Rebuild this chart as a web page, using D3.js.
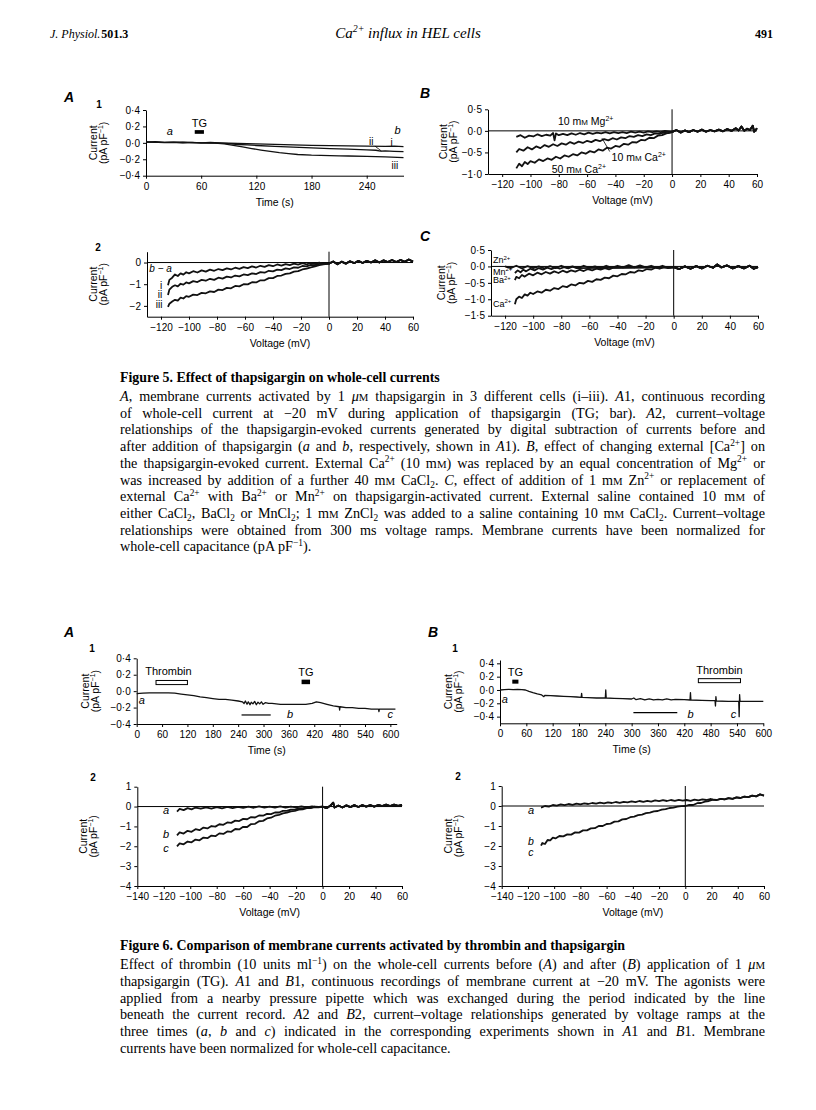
<!DOCTYPE html>
<html>
<head>
<meta charset="utf-8">
<script src="https://cdn.jsdelivr.net/npm/d3@7"></script>
<style>
  body { margin: 0; background: #fff; }
  svg { display: block; }
  .axis text { font-family: "Liberation Sans", Arial, sans-serif; font-size: 10px; fill: #000; }
  .axis path, .axis line { stroke: #000; stroke-width: 1; }
  .sans { font-family: "Liberation Sans", Arial, sans-serif; }
  .serif { font-family: "Liberation Serif", "Times New Roman", serif; }
</style>
</head>
<body>
<svg id="page" width="816" height="1110"></svg>
<script>
// ---- tick values ----
const TICKS_T280 = [0, 60, 120, 180, 240];
const TICKS_T600 = [0, 60, 120, 180, 240, 300, 360, 420, 480, 540, 600];
const TICKS_V130 = [-120, -100, -80, -60, -40, -20, 0, 20, 40, 60];
const TICKS_V140 = [-140, -120, -100, -80, -60, -40, -20, 0, 20, 40, 60];
const TICKS_I04 = [-0.4, -0.2, 0, 0.2, 0.4];
const TICKS_B = [-1, -0.5, 0, 0.5];
const TICKS_A2 = [-2, -1, 0];
const TICKS_C = [-1.5, -1, -0.5, 0, 0.5];
const TICKS_I4 = [-4, -3, -2, -1, 0, 1];

// ---- Fig 5 A1: current at -20 mV vs time (s) ----
const f5a1_i = [[0,0.01],[10,0.015],[20,0.005],[30,0.01],[40,0.0],[50,0.005],[60,0.0],[70,0.005],[80,0.0],[90,-0.005],[100,-0.008],[120,-0.012],[140,-0.018],[160,-0.024],[180,-0.03],[200,-0.033],[220,-0.036],[240,-0.04],[260,-0.043],[270,-0.04],[280,-0.045]];
const f5a1_ii = [[0,0.01],[20,0.005],[40,0.008],[60,0.0],[80,-0.003],[90,-0.01],[100,-0.02],[110,-0.025],[120,-0.032],[140,-0.042],[160,-0.052],[180,-0.062],[200,-0.07],[220,-0.077],[240,-0.085],[250,-0.09],[255,-0.1],[260,-0.098],[270,-0.104],[280,-0.108]];
const f5a1_iii = [[0,0.012],[20,0.002],[40,0.006],[60,0.0],[75,-0.003],[85,-0.012],[95,-0.03],[105,-0.05],[115,-0.07],[125,-0.088],[135,-0.105],[145,-0.12],[155,-0.132],[165,-0.142],[180,-0.15],[200,-0.155],[210,-0.158],[220,-0.16],[240,-0.165],[260,-0.172],[280,-0.18]];

// ---- Fig 5 B: I-V, changing external cation ----
const f5bMg = [[-110,-0.14],[-107,-0.1],[-104,-0.16],[-101,-0.11],[-98,-0.13],[-95,-0.08],[-92,-0.12],[-89,-0.09],[-86,-0.11],[-84,-0.05],[-83,-0.22],[-82,-0.06],[-80,-0.1],[-77,-0.07],[-74,-0.1],[-71,-0.06],[-68,-0.09],[-65,-0.05],[-62,-0.08],[-59,-0.04],[-56,-0.07],[-53,-0.04],[-50,-0.06],[-47,-0.03],[-44,-0.06],[-41,-0.03],[-38,-0.05],[-35,-0.03],[-32,-0.05],[-29,-0.02],[-26,-0.04],[-23,-0.02],[-20,-0.04],[-17,-0.01],[-14,-0.03],[-11,-0.01],[-8,-0.03],[-5,0.0]];
const f5bCa10 = [[-110,-0.5],[-108,-0.42],[-105,-0.46],[-102,-0.38],[-99,-0.43],[-96,-0.36],[-93,-0.4],[-90,-0.33],[-87,-0.37],[-84,-0.31],[-81,-0.35],[-78,-0.29],[-75,-0.32],[-72,-0.26],[-69,-0.3],[-66,-0.25],[-63,-0.28],[-60,-0.23],[-57,-0.26],[-54,-0.21],[-51,-0.24],[-48,-0.19],[-45,-0.22],[-42,-0.17],[-39,-0.2],[-36,-0.15],[-33,-0.17],[-30,-0.12],[-27,-0.14],[-24,-0.1],[-21,-0.12],[-18,-0.08],[-15,-0.1],[-12,-0.06],[-9,-0.07],[-6,-0.04],[-3,-0.05]];
const f5bCa50 = [[-110,-0.87],[-108,-0.76],[-106,-0.82],[-104,-0.72],[-102,-0.77],[-100,-0.7],[-97,-0.74],[-94,-0.66],[-91,-0.7],[-88,-0.64],[-85,-0.67],[-82,-0.6],[-79,-0.64],[-76,-0.57],[-73,-0.6],[-70,-0.54],[-67,-0.57],[-64,-0.5],[-61,-0.53],[-58,-0.47],[-55,-0.5],[-52,-0.43],[-49,-0.46],[-46,-0.39],[-43,-0.41],[-40,-0.35],[-37,-0.37],[-34,-0.3],[-31,-0.32],[-28,-0.26],[-25,-0.27],[-22,-0.21],[-19,-0.22],[-16,-0.16],[-13,-0.17],[-10,-0.11],[-7,-0.1],[-4,-0.06]];
const f5bTail = [[0,-0.03],[3,0.02],[6,-0.04],[9,0.01],[12,-0.03],[15,0.02],[18,-0.02],[21,0.03],[24,-0.02],[27,0.02],[30,-0.01],[33,0.03],[36,-0.01],[39,0.04],[42,0.0],[45,0.06],[47,0.01],[49,0.1],[51,0.0],[53,0.05],[55,0.02],[57,0.12],[58,-0.02],[60,0.06]];

// ---- Fig 5 A2: TG-evoked I-V (b - a) ----
const f5a2_i = [[-115,-1.05],[-114,-0.8],[-112,-0.7],[-110,-0.55],[-108,-0.62],[-106,-0.5],[-104,-0.56],[-102,-0.45],[-100,-0.5],[-97,-0.4],[-94,-0.46],[-91,-0.36],[-88,-0.42],[-85,-0.33],[-82,-0.38],[-79,-0.3],[-76,-0.35],[-73,-0.27],[-70,-0.32],[-67,-0.24],[-64,-0.29],[-61,-0.21],[-58,-0.26],[-55,-0.18],[-52,-0.23],[-49,-0.15],[-46,-0.2],[-43,-0.12],[-40,-0.17],[-37,-0.09],[-34,-0.14],[-31,-0.07],[-28,-0.12],[-25,-0.05],[-22,-0.1],[-19,-0.03],[-16,-0.08],[-13,-0.02],[-10,-0.06],[-7,0.0],[-4,-0.05]];
const f5a2_ii = [[-115,-1.5],[-114,-1.25],[-112,-1.12],[-110,-1.05],[-108,-1.1],[-106,-0.98],[-104,-1.02],[-102,-0.92],[-100,-0.96],[-97,-0.86],[-94,-0.9],[-91,-0.8],[-88,-0.84],[-85,-0.75],[-82,-0.8],[-79,-0.7],[-76,-0.74],[-73,-0.65],[-70,-0.69],[-67,-0.6],[-64,-0.64],[-61,-0.55],[-58,-0.58],[-55,-0.5],[-52,-0.53],[-49,-0.44],[-46,-0.47],[-43,-0.38],[-40,-0.41],[-37,-0.33],[-34,-0.35],[-31,-0.27],[-28,-0.3],[-25,-0.22],[-22,-0.24],[-19,-0.16],[-16,-0.18],[-13,-0.11],[-10,-0.12],[-7,-0.06],[-4,-0.06]];
const f5a2_iii = [[-115,-2.05],[-114,-1.9],[-112,-1.8],[-110,-1.72],[-108,-1.76],[-106,-1.62],[-104,-1.66],[-102,-1.55],[-100,-1.58],[-97,-1.48],[-94,-1.5],[-91,-1.4],[-88,-1.42],[-85,-1.33],[-82,-1.36],[-79,-1.25],[-76,-1.27],[-73,-1.17],[-70,-1.19],[-67,-1.08],[-64,-1.1],[-61,-1.0],[-58,-1.01],[-55,-0.91],[-52,-0.92],[-49,-0.82],[-46,-0.82],[-43,-0.72],[-40,-0.72],[-37,-0.62],[-34,-0.6],[-31,-0.52],[-28,-0.5],[-25,-0.42],[-22,-0.4],[-19,-0.32],[-16,-0.28],[-13,-0.22],[-10,-0.18],[-7,-0.12],[-4,-0.08]];
const f5a2Tail = [[0,-0.05],[3,0.05],[6,-0.08],[9,0.04],[12,-0.05],[15,0.06],[18,-0.03],[21,0.08],[24,-0.02],[27,0.08],[30,0.0],[33,0.1],[36,0.0],[39,0.1],[42,0.02],[45,0.12],[48,0.02],[51,0.12],[54,0.03],[57,0.14],[60,0.04]];

// ---- Fig 5 C: Zn, Mn, Ba, Ca ----
const f5cZn = [[-120,0.0],[-116,-0.05],[-112,0.02],[-108,-0.06],[-104,0.01],[-100,-0.05],[-96,0.0],[-92,-0.06],[-88,0.01],[-84,-0.05],[-80,0.02],[-76,-0.04],[-72,0.0],[-68,-0.05],[-64,0.02],[-60,-0.04],[-56,0.0],[-52,-0.05],[-48,0.02],[-44,-0.04],[-40,0.02],[-36,-0.03],[-32,0.04],[-28,-0.03],[-24,0.03],[-20,-0.03],[-16,0.02],[-12,-0.04],[-8,0.02],[-4,-0.04]];
const f5cMn = [[-113,-0.2],[-111,-0.12],[-109,-0.18],[-107,-0.1],[-105,-0.15],[-102,-0.07],[-99,-0.12],[-96,-0.05],[-93,-0.1],[-90,-0.04],[-87,-0.08],[-84,-0.03],[-81,-0.07],[-78,-0.02],[-75,-0.06],[-72,-0.01],[-69,-0.05]];
const f5cBa = [[-113,-0.42],[-112,-0.32],[-110,-0.36],[-108,-0.26],[-106,-0.31],[-103,-0.22],[-100,-0.27],[-97,-0.19],[-94,-0.24],[-91,-0.17],[-88,-0.22],[-85,-0.15],[-82,-0.2],[-79,-0.13],[-76,-0.18],[-73,-0.12],[-70,-0.16],[-67,-0.1],[-64,-0.14],[-61,-0.08],[-58,-0.12],[-55,-0.07],[-52,-0.1],[-49,-0.05],[-46,-0.09],[-43,-0.04]];
const f5cCa = [[-113,-1.15],[-112,-1.0],[-110,-0.92],[-108,-0.96],[-106,-0.85],[-104,-0.89],[-102,-0.8],[-100,-0.84],[-97,-0.76],[-94,-0.8],[-91,-0.71],[-88,-0.74],[-85,-0.66],[-82,-0.69],[-79,-0.6],[-76,-0.63],[-73,-0.55],[-70,-0.58],[-67,-0.5],[-64,-0.52],[-61,-0.44],[-58,-0.47],[-55,-0.39],[-52,-0.41],[-49,-0.34],[-46,-0.36],[-43,-0.28],[-40,-0.3],[-37,-0.23],[-34,-0.24],[-31,-0.17],[-28,-0.19],[-25,-0.12],[-22,-0.14],[-19,-0.08],[-16,-0.1],[-13,-0.04],[-10,-0.07],[-7,-0.02],[-4,-0.05]];
const f5cTail = [[0,-0.02],[4,-0.08],[8,0.0],[12,-0.07],[16,0.01],[20,-0.06],[24,0.02],[28,-0.04],[31,0.06],[34,-0.03],[38,0.03],[42,-0.06],[46,0.01],[50,-0.06],[54,0.02],[57,-0.07],[60,-0.02]];

// ---- Fig 6 A1 / B1: current at -20 mV vs time ----
const f6a1 = [[0,-0.03],[15,-0.025],[30,-0.02],[45,-0.02],[60,-0.02],[75,-0.02],[90,-0.025],[105,-0.035],[120,-0.045],[135,-0.055],[150,-0.07],[165,-0.08],[180,-0.09],[195,-0.1],[210,-0.1],[225,-0.11],[240,-0.12],[250,-0.13],[254,-0.15],[257,-0.12],[261,-0.16],[264,-0.13],[268,-0.165],[271,-0.135],[275,-0.155],[279,-0.125],[283,-0.165],[287,-0.135],[291,-0.155],[295,-0.13],[299,-0.16],[304,-0.14],[312,-0.15],[320,-0.15],[340,-0.16],[360,-0.16],[380,-0.16],[400,-0.16],[415,-0.15],[425,-0.13],[435,-0.14],[450,-0.16],[465,-0.18],[479,-0.19],[480,-0.23],[481,-0.19],[495,-0.2],[510,-0.2],[525,-0.21],[540,-0.21],[555,-0.22],[572,-0.22],[573,-0.25],[574,-0.22],[590,-0.22],[612,-0.22]];
const f6b1 = [[0,0.0],[10,0.005],[20,0.01],[30,0.005],[40,0.01],[50,0.005],[58,0.0],[66,-0.02],[75,-0.04],[85,-0.06],[95,-0.075],[100,-0.1],[102,-0.08],[115,-0.085],[130,-0.09],[145,-0.095],[160,-0.1],[175,-0.105],[185,-0.11],[186,-0.05],[187,-0.11],[200,-0.115],[220,-0.12],[240,-0.12],[241,0.0],[242,-0.12],[260,-0.125],[280,-0.13],[300,-0.135],[305,-0.12],[310,-0.145],[320,-0.13],[330,-0.15],[340,-0.135],[350,-0.15],[360,-0.14],[370,-0.15],[380,-0.135],[390,-0.15],[400,-0.14],[420,-0.145],[433,-0.15],[434,-0.04],[435,-0.15],[460,-0.155],[480,-0.16],[490,-0.16],[491,-0.24],[492,-0.1],[493,-0.165],[520,-0.17],[544,-0.17],[545,-0.4],[546,-0.07],[547,-0.17],[570,-0.17],[600,-0.17]];

// ---- Fig 6 A2 / B2: I-V at times a, b, c ----
const f6a2_a = [[-110,-0.25],[-108,-0.12],[-105,-0.18],[-102,-0.08],[-99,-0.14],[-96,-0.05],[-92,-0.11],[-88,-0.04],[-84,-0.1],[-80,-0.03],[-76,-0.09],[-72,-0.02],[-68,-0.08],[-64,-0.02],[-60,-0.07],[-56,0.0],[-52,-0.06],[-48,0.01],[-44,-0.05],[-40,0.0],[-36,-0.05],[-32,0.01],[-28,-0.05],[-24,0.0],[-20,-0.04],[-16,0.01],[-12,-0.04],[-8,0.01],[-4,-0.03]];
const f6a2_b = [[-110,-1.45],[-108,-1.3],[-105,-1.36],[-102,-1.22],[-99,-1.27],[-96,-1.14],[-93,-1.19],[-90,-1.06],[-87,-1.1],[-84,-0.98],[-81,-1.01],[-78,-0.89],[-75,-0.92],[-72,-0.8],[-69,-0.82],[-66,-0.71],[-63,-0.73],[-60,-0.62],[-57,-0.64],[-54,-0.53],[-51,-0.55],[-48,-0.45],[-45,-0.46],[-42,-0.37],[-39,-0.38],[-36,-0.3],[-33,-0.3],[-30,-0.22],[-27,-0.22],[-24,-0.15],[-21,-0.15],[-18,-0.09],[-15,-0.09],[-12,-0.04],[-9,-0.05],[-6,0.0],[-3,-0.02]];
const f6a2_c = [[-110,-2.0],[-108,-1.85],[-105,-1.9],[-102,-1.76],[-99,-1.8],[-96,-1.66],[-93,-1.7],[-90,-1.56],[-87,-1.59],[-84,-1.46],[-81,-1.49],[-78,-1.35],[-75,-1.38],[-72,-1.25],[-69,-1.27],[-66,-1.13],[-63,-1.15],[-60,-1.02],[-57,-1.03],[-54,-0.88],[-51,-0.87],[-48,-0.74],[-45,-0.72],[-42,-0.6],[-39,-0.56],[-36,-0.46],[-33,-0.42],[-30,-0.34],[-27,-0.31],[-24,-0.24],[-21,-0.22],[-18,-0.15],[-15,-0.14],[-12,-0.08],[-9,-0.08],[-6,-0.03],[-3,-0.04]];
const f6a2Tail = [[0,0.0],[3,-0.08],[6,0.05],[8,0.2],[9,-0.05],[12,0.05],[15,-0.05],[18,0.06],[21,-0.03],[24,0.07],[27,-0.02],[30,0.07],[33,0.0],[36,0.08],[39,0.0],[42,0.08],[45,0.02],[48,0.1],[51,0.02],[54,0.1],[57,0.03],[60,0.08]];
const f6b2_a = [[-110,-0.08],[-107,0.0],[-104,-0.03],[-101,0.05],[-98,0.02],[-95,0.08],[-92,0.04],[-89,0.1],[-86,0.06],[-83,0.12],[-80,0.08],[-77,0.13],[-74,0.1],[-71,0.15],[-68,0.12],[-65,0.17],[-62,0.13],[-59,0.18],[-56,0.15],[-53,0.2],[-50,0.16],[-47,0.21],[-44,0.18],[-41,0.23],[-38,0.19],[-35,0.25],[-32,0.21],[-29,0.26],[-26,0.22],[-23,0.28],[-20,0.24],[-17,0.29],[-14,0.25],[-11,0.3],[-8,0.26],[-5,0.31],[-2,0.27],[1,0.3],[4,0.26],[7,0.32],[10,0.28],[13,0.33],[16,0.3],[19,0.35]];
const f6b2_bc = [[-110,-1.98],[-109,-1.85],[-107,-1.9],[-105,-1.7],[-103,-1.72],[-101,-1.58],[-99,-1.62],[-96,-1.5],[-93,-1.52],[-90,-1.42],[-87,-1.43],[-84,-1.32],[-81,-1.33],[-78,-1.22],[-75,-1.22],[-72,-1.12],[-69,-1.11],[-66,-1.0],[-63,-1.0],[-60,-0.9],[-57,-0.88],[-54,-0.78],[-51,-0.77],[-48,-0.67],[-45,-0.65],[-42,-0.56],[-39,-0.53],[-36,-0.46],[-33,-0.43],[-30,-0.36],[-27,-0.33],[-24,-0.27],[-21,-0.25],[-18,-0.18],[-15,-0.16],[-12,-0.1],[-9,-0.08],[-6,-0.03],[-3,-0.01],[0,0.0],[3,0.06],[6,0.05],[9,0.14],[12,0.15],[15,0.22],[18,0.25]];
const f6b2Tail = [[21,0.32],[24,0.3],[27,0.36],[30,0.33],[33,0.39],[36,0.36],[39,0.43],[42,0.4],[45,0.47],[48,0.44],[51,0.52],[54,0.48],[57,0.58],[60,0.52]];

// ---- caption text (markup: *italic*  ^sup^  _sub_  {small caps}) ----
const CAP5_TITLE = "Figure 5. Effect of thapsigargin on whole-cell currents";
const CAP5 = [
  "*A*, membrane currents activated by 1 *μ*{M} thapsigargin in 3 different cells (i–iii). *A*1, continuous recording",
  "of whole-cell current at −20 mV during application of thapsigargin (TG; bar). *A*2, current–voltage",
  "relationships of the thapsigargin-evoked currents generated by digital subtraction of currents before and",
  "after addition of thapsigargin (*a* and *b*, respectively, shown in *A*1). *B*, effect of changing external [Ca^2+^] on",
  "the thapsigargin-evoked current. External Ca^2+^ (10 m{M}) was replaced by an equal concentration of Mg^2+^ or",
  "was increased by addition of a further 40 m{M} CaCl_2_. *C*, effect of addition of 1 m{M} Zn^2+^ or replacement of",
  "external Ca^2+^ with Ba^2+^ or Mn^2+^ on thapsigargin-activated current. External saline contained 10 m{M} of",
  "either CaCl_2_, BaCl_2_ or MnCl_2_; 1 m{M} ZnCl_2_ was added to a saline containing 10 m{M} CaCl_2_. Current–voltage",
  "relationships were obtained from 300 ms voltage ramps. Membrane currents have been normalized for",
  "whole-cell capacitance (pA pF^−1^)."
];
const CAP6_TITLE = "Figure 6. Comparison of membrane currents activated by thrombin and thapsigargin";
const CAP6 = [
  "Effect of thrombin (10 units ml^−1^) on the whole-cell currents before (*A*) and after (*B*) application of 1 *μ*{M}",
  "thapsigargin (TG). *A*1 and *B*1, continuous recordings of membrane current at −20 mV. The agonists were",
  "applied from a nearby pressure pipette which was exchanged during the period indicated by the line",
  "beneath the current record. *A*2 and *B*2, current–voltage relationships generated by voltage ramps at the",
  "three times (*a*, *b* and *c*) indicated in the corresponding experiments shown in *A*1 and *B*1. Membrane",
  "currents have been normalized for whole-cell capacitance."
];

const svg = d3.select("#page");

const fmtDot = d => (d < 0 ? "−" : "") + Math.abs(d).toFixed(1).replace(".", "·");
const fmtInt = d => (d < 0 ? "−" : "") + Math.abs(d);

// writes marked-up text as tspans into a <text>
function rich(sel, str, fs) {
  let it = false, sup = false, sub = false, sc = false, buf = "";
  const segs = [];
  const flush = () => { if (buf) { segs.push({t: buf, it, sup, sub, sc}); buf = ""; } };
  for (const ch of str) {
    if (ch === "*") { flush(); it = !it; }
    else if (ch === "^") { flush(); sup = !sup; }
    else if (ch === "_") { flush(); sub = !sub; }
    else if (ch === "{") { flush(); sc = true; }
    else if (ch === "}") { flush(); sc = false; }
    else buf += ch;
  }
  flush();
  let off = 0;
  segs.forEach(s => {
    const target = s.sup ? -0.38 * fs : s.sub ? 0.25 * fs : 0;
    const ts = sel.append("tspan").attr("dy", target - off).text(s.t);
    off = target;
    if (s.it) ts.attr("font-style", "italic");
    if (s.sup || s.sub) ts.attr("font-size", 0.66 * fs);
    if (s.sc) ts.attr("font-size", 0.76 * fs);
  });
  return segs.map(s => s.t).join("");
}

function panel(p) {
  const x = d3.scaleLinear().domain(p.xDomain).range([p.left, p.right]);
  const y = d3.scaleLinear().domain(p.yDomain).range([p.bottom, p.top]);
  const g = svg.append("g");

  if (p.zero) {
    g.append("line").attr("x1", p.left).attr("x2", p.right)
      .attr("y1", y(0)).attr("y2", y(0)).attr("stroke", "#000");
    g.append("line").attr("x1", x(0)).attr("x2", x(0))
      .attr("y1", p.top).attr("y2", p.bottom).attr("stroke", "#000");
  }

  g.append("g").attr("class", "axis")
    .attr("transform", `translate(0,${p.bottom})`)
    .call(d3.axisBottom(x).tickValues(p.xTicks).tickFormat(fmtInt)
      .tickSize(3).tickSizeOuter(0).tickPadding(4));
  g.append("g").attr("class", "axis")
    .attr("transform", `translate(${p.left},0)`)
    .call(d3.axisLeft(y).tickValues(p.yTicks).tickFormat(p.yFmt)
      .tickSize(3).tickSizeOuter(0).tickPadding(3));

  g.append("text").attr("class", "sans")
    .attr("x", (p.left + p.right) / 2).attr("y", p.bottom + 30)
    .attr("text-anchor", "middle").attr("font-size", 10.5)
    .text(p.xTitle);

  const yl = g.append("text").attr("class", "sans").attr("font-size", 10.5)
    .attr("text-anchor", "middle")
    .attr("transform", `translate(${p.left + p.ylabDx},${(p.top + p.bottom) / 2}) rotate(-90)`);
  yl.append("tspan").attr("x", 0).text("Current");
  yl.append("tspan").attr("x", 0).attr("dy", 10).text("(pA pF");
  yl.append("tspan").attr("dy", -4).attr("font-size", 7).text("−1");
  yl.append("tspan").attr("dy", 4).text(")");

  const line = d3.line().x(d => x(d[0])).y(d => y(d[1]));
  (p.traces || []).forEach(t => {
    g.append("path").datum(t).attr("d", line)
      .attr("fill", "none").attr("stroke", "#111")
      .attr("stroke-width", p.sw || 1.2).attr("stroke-linejoin", "round");
  });
  return {x, y, g};
}

function txt(g, x, y, s, opt = {}) {
  const t = g.append("text").attr("class", "sans").attr("x", x).attr("y", y)
    .attr("font-size", opt.fs || 11).attr("text-anchor", opt.anchor || "start");
  if (opt.it) t.attr("font-style", "italic");
  if (opt.bold) t.attr("font-weight", "bold");
  rich(t, s, opt.fs || 11);
  return t;
}

// ---------- header ----------
const hdr = svg.append("text").attr("class", "serif").attr("x", 50).attr("y", 38).attr("font-size", 12);
hdr.append("tspan").attr("font-style", "italic").text("J. Physiol.");
hdr.append("tspan").attr("font-weight", "bold").attr("dx", 1).text("501.3");
const ttl = svg.append("text").attr("class", "serif").attr("x", 408).attr("y", 38)
  .attr("font-size", 15).attr("font-style", "italic").attr("text-anchor", "middle");
rich(ttl, "Ca^2+^ influx in HEL cells", 15);
svg.append("text").attr("class", "serif").attr("x", 773).attr("y", 38)
  .attr("font-size", 12).attr("font-weight", "bold").attr("text-anchor", "end").text("491");

// ---------- Figure 5 ----------
// A1
{
  const {x, y, g} = panel({left: 146, right: 403.5, top: 110, bottom: 175.7,
    xDomain: [0, 280], yDomain: [-0.4, 0.4], xTicks: TICKS_T280, yTicks: TICKS_I04,
    yFmt: fmtDot, xTitle: "Time (s)", ylabDx: -49.5, traces: [f5a1_i, f5a1_ii, f5a1_iii], sw: 1.3});
  txt(g, 64, 102, "A", {fs: 14, it: true, bold: true});
  txt(g, 99, 108, "1", {fs: 10, bold: true, anchor: "middle"});
  txt(g, x(26), y(0.09), "a", {it: true, anchor: "middle"});
  g.append("rect").attr("x", x(53)).attr("width", x(63) - x(53))
    .attr("y", y(0.155)).attr("height", y(0.11) - y(0.155)).attr("fill", "#000");
  txt(g, x(58), y(0.19), "TG", {anchor: "middle"});
  txt(g, x(273.5), y(0.105), "b", {it: true, anchor: "middle"});
  txt(g, x(267), y(-0.035), "i", {fs: 10, anchor: "middle"});
  txt(g, x(245), y(-0.025), "ii", {fs: 10, anchor: "middle"});
  g.append("line").attr("x1", x(249)).attr("y1", y(-0.04)).attr("x2", x(256)).attr("y2", y(-0.1))
    .attr("stroke", "#000").attr("stroke-width", 0.8);
  txt(g, x(270.6), y(-0.32), "iii", {fs: 10, anchor: "middle"});
}
// B
{
  const {x, y, g} = panel({left: 488, right: 757, top: 109.3, bottom: 174,
    xDomain: [-130, 60], yDomain: [-1, 0.5], xTicks: TICKS_V130, yTicks: TICKS_B,
    yFmt: fmtDot, xTitle: "Voltage (mV)", ylabDx: -41.5, zero: true, sw: 1.8,
    traces: [f5bMg.concat(f5bTail), f5bCa10.concat(f5bTail), f5bCa50.concat(f5bTail)]});
  txt(g, 420, 98, "B", {fs: 14, it: true, bold: true});
  txt(g, x(-80.6), y(0.13), "10 m{M} Mg^2+^", {fs: 10.5});
  g.append("line").attr("x1", x(-49.5)).attr("y1", y(-0.17)).attr("x2", x(-44)).attr("y2", y(-0.48))
    .attr("stroke", "#000").attr("stroke-width", 0.8);
  txt(g, x(-42.7), y(-0.7), "10 m{M} Ca^2+^", {fs: 10.5});
  txt(g, x(-85), y(-0.98), "50 m{M} Ca^2+^", {fs: 10.5});
}
// A2
{
  const {x, y, g} = panel({left: 147, right: 413, top: 251.7, bottom: 316.7,
    xDomain: [-130, 60], yDomain: [-2.5, 0.5], xTicks: TICKS_V130, yTicks: TICKS_A2,
    yFmt: fmtInt, xTitle: "Voltage (mV)", ylabDx: -50.5, zero: true, sw: 1.8,
    traces: [f5a2_i.concat(f5a2Tail), f5a2_ii.concat(f5a2Tail), f5a2_iii.concat(f5a2Tail)]});
  txt(g, 98, 251, "2", {fs: 10, bold: true, anchor: "middle"});
  txt(g, x(-128.4), y(-0.44), "b − a", {fs: 10, it: true});
  txt(g, x(-120), y(-1.2), "i", {fs: 10, anchor: "middle"});
  txt(g, x(-120.7), y(-1.65), "ii", {fs: 10, anchor: "middle"});
  txt(g, x(-121.4), y(-2.08), "iii", {fs: 10, anchor: "middle"});
}
// C
{
  const {x, y, g} = panel({left: 491, right: 758, top: 250, bottom: 315.7,
    xDomain: [-130, 60], yDomain: [-1.5, 0.5], xTicks: TICKS_V130, yTicks: TICKS_C,
    yFmt: fmtDot, xTitle: "Voltage (mV)", ylabDx: -45.8, zero: true, sw: 1.8,
    traces: [f5cZn.concat(f5cTail), f5cMn.concat(f5cTail), f5cBa.concat(f5cTail), f5cCa.concat(f5cTail)]});
  txt(g, 420, 241, "C", {fs: 14, it: true, bold: true});
  txt(g, x(-128.6), y(0.1), "Zn^2+^", {fs: 9});
  txt(g, x(-128.6), y(-0.25), "Mn^2+^", {fs: 9});
  txt(g, x(-128.6), y(-0.51), "Ba^2+^", {fs: 9});
  txt(g, x(-128.6), y(-1.23), "Ca^2+^", {fs: 9});
}

// ---------- captions ----------
const CAP_X = 120, CAP_W = 645;
// pick one font size so the widest justified line nearly fills the measure
function fitCaptionSize(all) {
  const probe = svg.append("g");
  let maxLen = 0;
  all.forEach(s => {
    const el = probe.append("text").attr("class", "serif").attr("font-size", 13);
    rich(el, s, 13);
    maxLen = Math.max(maxLen, el.node().getComputedTextLength());
  });
  probe.remove();
  return Math.min(14.2, 13 * (CAP_W - 4) / maxLen);
}
const CAP_FS = fitCaptionSize(CAP5.slice(0, -1).concat(CAP6.slice(0, -1)));

function caption(title, lines, y0, lh) {
  const g = svg.append("g");
  g.append("text").attr("class", "serif").attr("x", CAP_X).attr("y", y0)
    .attr("font-size", CAP_FS - 0.3).attr("font-weight", "bold").text(title);
  lines.forEach((s, i) => {
    const el = g.append("text").attr("class", "serif").attr("x", CAP_X)
      .attr("y", y0 + 19 + i * lh).attr("font-size", CAP_FS);
    const plain = rich(el, s, CAP_FS);
    if (i < lines.length - 1) {
      const len = el.node().getComputedTextLength();
      const n = (plain.match(/ /g) || []).length;
      el.style("word-spacing", ((CAP_W - len) / n) + "px");
    }
  });
}
caption(CAP5_TITLE, CAP5, 382, 16.7);
caption(CAP6_TITLE, CAP6, 950, 16.8);

// ---------- Figure 6 ----------
// A1
{
  const {x, y, g} = panel({left: 136.7, right: 396.7, top: 658.3, bottom: 724,
    xDomain: [0, 615], yDomain: [-0.4, 0.4], xTicks: TICKS_T600, yTicks: TICKS_I04,
    yFmt: fmtDot, xTitle: "Time (s)", ylabDx: -48, traces: [f6a1], sw: 1.3});
  txt(g, 64, 636.5, "A", {fs: 14, it: true, bold: true});
  txt(g, 92, 652, "1", {fs: 10, bold: true, anchor: "middle"});
  txt(g, x(11.8), y(-0.156), "a", {it: true, anchor: "middle"});
  g.append("rect").attr("x", x(45.7)).attr("width", x(120) - x(45.7))
    .attr("y", y(0.13)).attr("height", y(0.08) - y(0.13))
    .attr("fill", "#fff").attr("stroke", "#000");
  txt(g, x(75), y(0.2), "Thrombin", {anchor: "middle"});
  g.append("rect").attr("x", x(390)).attr("width", x(410) - x(390))
    .attr("y", y(0.14)).attr("height", y(0.085) - y(0.14)).attr("fill", "#000");
  txt(g, x(400), y(0.19), "TG", {anchor: "middle"});
  g.append("line").attr("x1", x(248)).attr("x2", x(317)).attr("y1", y(-0.29)).attr("y2", y(-0.29))
    .attr("stroke", "#000").attr("stroke-width", 1.2);
  txt(g, x(363), y(-0.33), "b", {it: true, anchor: "middle"});
  txt(g, x(600), y(-0.33), "c", {it: true, anchor: "middle"});
}
// B1
{
  const {x, y, g} = panel({left: 500, right: 763.3, top: 660, bottom: 723.3,
    xDomain: [0, 600], yDomain: [-0.5, 0.45], xTicks: TICKS_T600, yTicks: TICKS_I04,
    yFmt: fmtDot, xTitle: "Time (s)", ylabDx: -48, traces: [f6b1], sw: 1.3});
  txt(g, 428, 636.5, "B", {fs: 14, it: true, bold: true});
  txt(g, 455, 652, "1", {fs: 10, bold: true, anchor: "middle"});
  txt(g, x(11), y(-0.2), "a", {it: true, anchor: "middle"});
  g.append("rect").attr("x", x(28)).attr("width", x(42) - x(28))
    .attr("y", y(0.155)).attr("height", y(0.095) - y(0.155)).attr("fill", "#000");
  txt(g, x(35), y(0.21), "TG", {anchor: "middle"});
  g.append("rect").attr("x", x(452)).attr("width", x(548) - x(452))
    .attr("y", y(0.17)).attr("height", y(0.11) - y(0.17))
    .attr("fill", "#fff").attr("stroke", "#000");
  txt(g, x(500), y(0.235), "Thrombin", {anchor: "middle"});
  g.append("line").attr("x1", x(304)).attr("x2", x(404)).attr("y1", y(-0.34)).attr("y2", y(-0.34))
    .attr("stroke", "#000").attr("stroke-width", 1.2);
  txt(g, x(434), y(-0.42), "b", {it: true, anchor: "middle"});
  txt(g, x(532), y(-0.42), "c", {it: true, anchor: "middle"});
}
// A2
{
  const {x, y, g} = panel({left: 137.3, right: 402, top: 786.7, bottom: 886,
    xDomain: [-140, 60], yDomain: [-4, 1], xTicks: TICKS_V140, yTicks: TICKS_I4,
    yFmt: fmtInt, xTitle: "Voltage (mV)", ylabDx: -50.5, zero: true, sw: 1.8,
    traces: [f6a2_a.concat(f6a2Tail), f6a2_b.concat(f6a2Tail), f6a2_c.concat(f6a2Tail)]});
  txt(g, 93, 781, "2", {fs: 10, bold: true, anchor: "middle"});
  txt(g, x(-118.3), y(-0.39), "a", {it: true, anchor: "middle"});
  txt(g, x(-118.3), y(-1.6), "b", {it: true, anchor: "middle"});
  txt(g, x(-118.3), y(-2.27), "c", {it: true, anchor: "middle"});
}
// B2
{
  const {x, y, g} = panel({left: 501.7, right: 764, top: 786, bottom: 886,
    xDomain: [-140, 60], yDomain: [-4, 1], xTicks: TICKS_V140, yTicks: TICKS_I4,
    yFmt: fmtInt, xTitle: "Voltage (mV)", ylabDx: -50, zero: true, sw: 1.8,
    traces: [f6b2_a.concat(f6b2Tail), f6b2_bc.concat(f6b2Tail)]});
  txt(g, 458, 780, "2", {fs: 10, bold: true, anchor: "middle"});
  txt(g, x(-117.7), y(-0.42), "a", {it: true, anchor: "middle"});
  txt(g, x(-117.7), y(-1.95), "b", {fs: 10.5, it: true, anchor: "middle"});
  txt(g, x(-117.7), y(-2.52), "c", {fs: 10.5, it: true, anchor: "middle"});
}
</script>
</body>
</html>
